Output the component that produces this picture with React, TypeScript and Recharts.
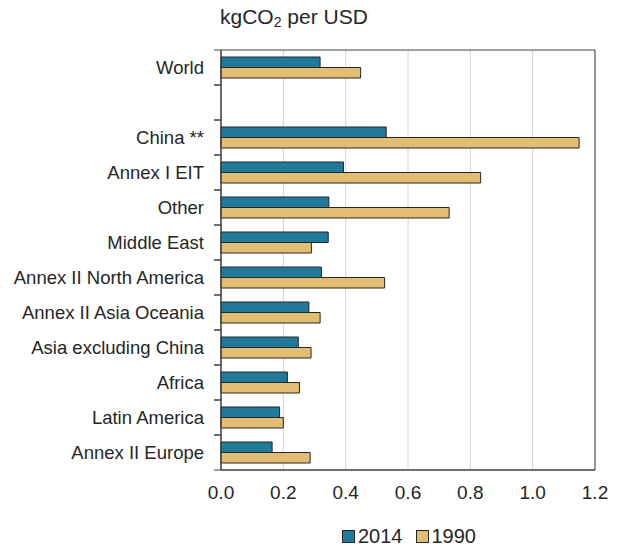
import React from "react";
import {
  BarChart,
  Bar,
  XAxis,
  YAxis,
  CartesianGrid,
  ReferenceArea,
} from "recharts";

// regions, top to bottom (blank row separates World from the rest)
const regions = [
  "World",
  "",
  "China **",
  "Annex I EIT",
  "Other",
  "Middle East",
  "Annex II North America",
  "Annex II Asia Oceania",
  "Asia excluding China",
  "Africa",
  "Latin America",
  "Annex II Europe",
];

const values2014 = [0.318, null, 0.53, 0.393, 0.346, 0.344, 0.322, 0.282, 0.248, 0.213, 0.188, 0.164];
const values1990 = [0.448, null, 1.149, 0.833, 0.732, 0.29, 0.525, 0.318, 0.289, 0.252, 0.2, 0.286];

const xTicks = [0, 0.2, 0.4, 0.6, 0.8, 1.0, 1.2];

const FONT = "'Liberation Sans', Arial, sans-serif";
const TEXT = "#262626";
const C2014 = "#1f7a9c";
const C1990 = "#e2bd72";

const data = regions.map((name, i) => ({
  name,
  y2014: values2014[i],
  y1990: values1990[i],
}));

// category label plus boundary tick marks (ticks sit between rows, not at the centre)
function RegionTick(props: any) {
  const { x, y, payload } = props;
  const half = 17.5;
  return (
    <g>
      <line x1={x - 7} x2={x} y1={y - half} y2={y - half} stroke="#404040" />
      <line x1={x - 7} x2={x} y1={y + half} y2={y + half} stroke="#404040" />
      <text
        x={x - 17}
        y={y}
        dy="0.35em"
        textAnchor="end"
        fill={TEXT}
        fontSize={18.5}
        fontFamily={FONT}
      >
        {payload.value}
      </text>
    </g>
  );
}

export default function App() {
  return (
    <div
      style={{
        position: "absolute",
        left: 0,
        top: 0,
        width: 623,
        height: 546,
        background: "#fff",
        fontFamily: FONT,
        color: TEXT,
      }}
    >
      {/* axis unit title */}
      <div style={{ position: "absolute", left: 220, top: 5, fontSize: 21, lineHeight: "24px" }}>
        kgCO<sub style={{ fontSize: 14, verticalAlign: "-3px" }}>2</sub> per USD
      </div>

      <BarChart
        width={623}
        height={546}
        data={data}
        layout="vertical"
        margin={{ top: 50, right: 28, left: 0, bottom: 46 }}
        barGap={0}
        barSize={10.5}
      >
        <CartesianGrid horizontal={false} stroke="#d4d4d4" />
        <XAxis
          type="number"
          domain={[0, 1.2]}
          ticks={xTicks}
          tickFormatter={(v: number) => v.toFixed(1)}
          axisLine={{ stroke: "#404040" }}
          tickLine={false}
          tickSize={0}
          tickMargin={16}
          height={30}
          tick={{ fill: TEXT, fontSize: 19, fontFamily: FONT }}
          interval={0}
        />
        <YAxis
          type="category"
          dataKey="name"
          width={221}
          axisLine={{ stroke: "#404040" }}
          tickLine={false}
          tickSize={0}
          tickMargin={0}
          interval={0}
          tick={<RegionTick />}
        />
        <Bar dataKey="y2014" fill={C2014} stroke={TEXT} strokeWidth={1} isAnimationActive={false} />
        <Bar dataKey="y1990" fill={C1990} stroke={TEXT} strokeWidth={1} isAnimationActive={false} />
        <ReferenceArea x1={0} x2={1.2} fill="none" stroke="#404040" strokeWidth={1} />
      </BarChart>

      {/* legend */}
      <div
        style={{
          position: "absolute",
          left: 342,
          top: 524,
          display: "flex",
          alignItems: "center",
          fontSize: 20,
          lineHeight: "24px",
        }}
      >
        <span style={{ width: 11, height: 11, background: C2014, border: `1px solid ${TEXT}`, marginRight: 3 }} />
        <span style={{ marginRight: 13 }}>2014</span>
        <span style={{ width: 11, height: 11, background: C1990, border: `1px solid ${TEXT}`, marginRight: 3 }} />
        <span>1990</span>
      </div>
    </div>
  );
}
